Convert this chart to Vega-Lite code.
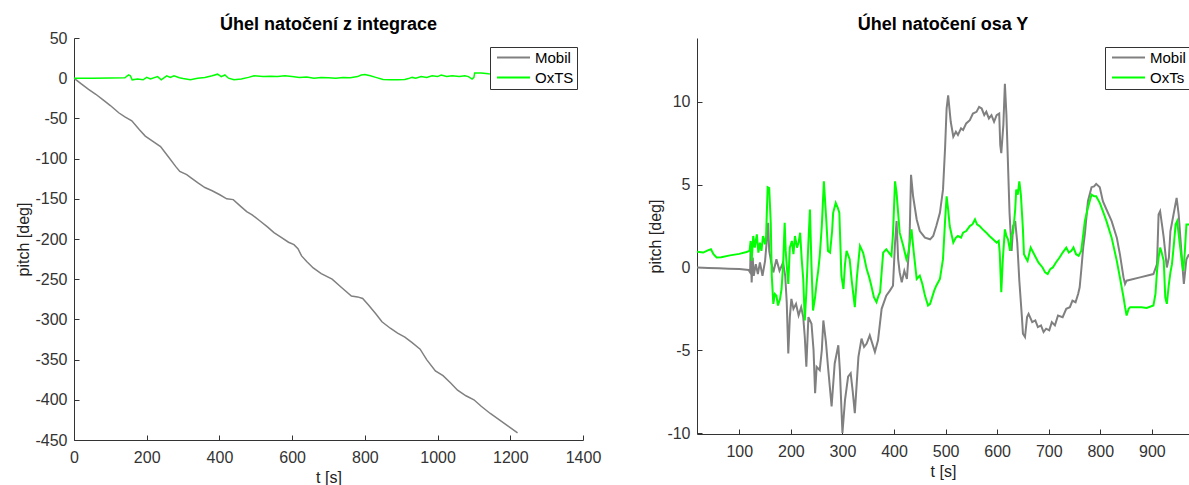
{
  "$schema": "https://vega.github.io/schema/vega-lite/v6.json",
  "background": "white",
  "padding": {"left": 15, "top": 16, "right": 0, "bottom": 0},
  "config": {
    "view": {"stroke": null},
    "font": "Liberation Sans",
    "axis": {"grid": false, "domainColor": "#333333", "tickColor": "#333333", "labelColor": "#333333", "titleColor": "#222222", "labelFont": "Liberation Sans", "titleFont": "Liberation Sans", "labelFontSize": 16, "titleFontSize": 16, "titleFontWeight": "normal", "tickSize": -5, "domainWidth": 1, "labelFlush": false, "labelExpr": "toString(datum.value)"},
    "axisX": {"labelPadding": 14, "titlePadding": 4},
    "axisY": {"labelPadding": 12, "titlePadding": 3},
    "title": {"font": "Liberation Sans", "fontSize": 18, "fontWeight": "bold", "color": "#000000", "anchor": "middle"},
    "legend": {"labelFont": "Liberation Sans", "labelFontSize": 15, "labelColor": "#000000", "fillColor": "white", "strokeColor": "#333333", "padding": 3, "rowPadding": 4, "symbolSize": 121, "symbolStrokeWidth": 2, "labelOffset": 25, "symbolOffset": 2}
  },
  "datasets": {
    "left": [
      {"t":0,"v":0,"s":"Mobil"},{"t":20,"v":-7,"s":"Mobil"},{"t":40,"v":-14,"s":"Mobil"},{"t":60,"v":-20,"s":"Mobil"},{"t":80,"v":-27,"s":"Mobil"},{"t":100,"v":-34,"s":"Mobil"},{"t":123,"v":-43,"s":"Mobil"},{"t":140,"v":-48,"s":"Mobil"},{"t":159,"v":-53,"s":"Mobil"},{"t":180,"v":-64,"s":"Mobil"},{"t":196,"v":-72,"s":"Mobil"},{"t":215,"v":-78,"s":"Mobil"},{"t":238,"v":-85,"s":"Mobil"},{"t":260,"v":-98,"s":"Mobil"},{"t":280,"v":-110,"s":"Mobil"},{"t":291,"v":-116,"s":"Mobil"},{"t":310,"v":-120,"s":"Mobil"},{"t":322,"v":-124,"s":"Mobil"},{"t":340,"v":-130,"s":"Mobil"},{"t":360,"v":-136,"s":"Mobil"},{"t":380,"v":-140,"s":"Mobil"},{"t":401,"v":-145,"s":"Mobil"},{"t":420,"v":-150,"s":"Mobil"},{"t":438,"v":-151,"s":"Mobil"},{"t":460,"v":-160,"s":"Mobil"},{"t":475,"v":-166,"s":"Mobil"},{"t":490,"v":-170,"s":"Mobil"},{"t":510,"v":-177,"s":"Mobil"},{"t":532,"v":-185,"s":"Mobil"},{"t":550,"v":-192,"s":"Mobil"},{"t":570,"v":-198,"s":"Mobil"},{"t":590,"v":-204,"s":"Mobil"},{"t":605,"v":-207,"s":"Mobil"},{"t":616,"v":-212,"s":"Mobil"},{"t":626,"v":-221,"s":"Mobil"},{"t":640,"v":-228,"s":"Mobil"},{"t":658,"v":-236,"s":"Mobil"},{"t":680,"v":-243,"s":"Mobil"},{"t":710,"v":-250,"s":"Mobil"},{"t":735,"v":-260,"s":"Mobil"},{"t":763,"v":-271,"s":"Mobil"},{"t":780,"v":-272,"s":"Mobil"},{"t":794,"v":-274,"s":"Mobil"},{"t":810,"v":-282,"s":"Mobil"},{"t":830,"v":-293,"s":"Mobil"},{"t":847,"v":-303,"s":"Mobil"},{"t":870,"v":-311,"s":"Mobil"},{"t":890,"v":-317,"s":"Mobil"},{"t":910,"v":-322,"s":"Mobil"},{"t":930,"v":-329,"s":"Mobil"},{"t":952,"v":-337,"s":"Mobil"},{"t":970,"v":-350,"s":"Mobil"},{"t":994,"v":-364,"s":"Mobil"},{"t":1015,"v":-370,"s":"Mobil"},{"t":1036,"v":-379,"s":"Mobil"},{"t":1055,"v":-388,"s":"Mobil"},{"t":1078,"v":-395,"s":"Mobil"},{"t":1100,"v":-400,"s":"Mobil"},{"t":1120,"v":-408,"s":"Mobil"},{"t":1145,"v":-417,"s":"Mobil"},{"t":1170,"v":-425,"s":"Mobil"},{"t":1195,"v":-433,"s":"Mobil"},{"t":1220,"v":-441,"s":"Mobil"},
      {"t":0,"v":0,"s":"OxTS"},{"t":50,"v":0,"s":"OxTS"},{"t":100,"v":0.2,"s":"OxTS"},{"t":140,"v":0.5,"s":"OxTS"},{"t":150,"v":4,"s":"OxTS"},{"t":155,"v":3,"s":"OxTS"},{"t":160,"v":-2,"s":"OxTS"},{"t":175,"v":-1,"s":"OxTS"},{"t":190,"v":-2,"s":"OxTS"},{"t":200,"v":1,"s":"OxTS"},{"t":210,"v":-1,"s":"OxTS"},{"t":230,"v":2,"s":"OxTS"},{"t":240,"v":-2,"s":"OxTS"},{"t":255,"v":3,"s":"OxTS"},{"t":265,"v":1,"s":"OxTS"},{"t":275,"v":3,"s":"OxTS"},{"t":290,"v":0.5,"s":"OxTS"},{"t":300,"v":-0.5,"s":"OxTS"},{"t":320,"v":-2,"s":"OxTS"},{"t":340,"v":0,"s":"OxTS"},{"t":360,"v":1,"s":"OxTS"},{"t":380,"v":3,"s":"OxTS"},{"t":395,"v":5,"s":"OxTS"},{"t":405,"v":2,"s":"OxTS"},{"t":415,"v":4,"s":"OxTS"},{"t":425,"v":0,"s":"OxTS"},{"t":440,"v":-2,"s":"OxTS"},{"t":460,"v":-1,"s":"OxTS"},{"t":480,"v":1,"s":"OxTS"},{"t":495,"v":3,"s":"OxTS"},{"t":520,"v":2,"s":"OxTS"},{"t":540,"v":2.5,"s":"OxTS"},{"t":560,"v":2,"s":"OxTS"},{"t":580,"v":3,"s":"OxTS"},{"t":600,"v":2,"s":"OxTS"},{"t":620,"v":1,"s":"OxTS"},{"t":640,"v":1.5,"s":"OxTS"},{"t":660,"v":0,"s":"OxTS"},{"t":680,"v":1,"s":"OxTS"},{"t":700,"v":0.5,"s":"OxTS"},{"t":720,"v":0,"s":"OxTS"},{"t":740,"v":1,"s":"OxTS"},{"t":760,"v":0.5,"s":"OxTS"},{"t":780,"v":2,"s":"OxTS"},{"t":790,"v":4,"s":"OxTS"},{"t":800,"v":4.5,"s":"OxTS"},{"t":815,"v":3,"s":"OxTS"},{"t":830,"v":1,"s":"OxTS"},{"t":850,"v":-1.5,"s":"OxTS"},{"t":870,"v":-2,"s":"OxTS"},{"t":890,"v":-2,"s":"OxTS"},{"t":910,"v":-1.5,"s":"OxTS"},{"t":920,"v":-0.5,"s":"OxTS"},{"t":930,"v":1,"s":"OxTS"},{"t":940,"v":0,"s":"OxTS"},{"t":955,"v":2,"s":"OxTS"},{"t":970,"v":1,"s":"OxTS"},{"t":985,"v":3,"s":"OxTS"},{"t":1000,"v":2,"s":"OxTS"},{"t":1010,"v":4,"s":"OxTS"},{"t":1025,"v":2,"s":"OxTS"},{"t":1040,"v":3,"s":"OxTS"},{"t":1060,"v":2,"s":"OxTS"},{"t":1075,"v":3,"s":"OxTS"},{"t":1085,"v":2,"s":"OxTS"},{"t":1095,"v":-1,"s":"OxTS"},{"t":1100,"v":1,"s":"OxTS"},{"t":1102,"v":6.5,"s":"OxTS"},{"t":1120,"v":6.5,"s":"OxTS"},{"t":1140,"v":5.5,"s":"OxTS"},{"t":1160,"v":5,"s":"OxTS"},{"t":1180,"v":4,"s":"OxTS"},{"t":1200,"v":4,"s":"OxTS"},{"t":1220,"v":3,"s":"OxTS"}
    ],
    "right": [
      {"t":18,"v":0.0,"s":"Mobil"},{"t":40,"v":-0.03,"s":"Mobil"},{"t":60,"v":-0.05,"s":"Mobil"},{"t":80,"v":-0.08,"s":"Mobil"},{"t":100,"v":-0.1,"s":"Mobil"},{"t":118,"v":-0.15,"s":"Mobil"},{"t":121,"v":-0.3,"s":"Mobil"},{"t":122,"v":1.2,"s":"Mobil"},{"t":124,"v":-0.9,"s":"Mobil"},{"t":126,"v":0.6,"s":"Mobil"},{"t":128,"v":-0.5,"s":"Mobil"},{"t":132,"v":0.2,"s":"Mobil"},{"t":136,"v":-0.4,"s":"Mobil"},{"t":140,"v":0.3,"s":"Mobil"},{"t":145,"v":-0.5,"s":"Mobil"},{"t":150,"v":0.4,"s":"Mobil"},{"t":153,"v":1.5,"s":"Mobil"},{"t":156,"v":2.7,"s":"Mobil"},{"t":158,"v":1.0,"s":"Mobil"},{"t":162,"v":0.3,"s":"Mobil"},{"t":166,"v":-0.3,"s":"Mobil"},{"t":172,"v":0.5,"s":"Mobil"},{"t":178,"v":-0.2,"s":"Mobil"},{"t":185,"v":0.3,"s":"Mobil"},{"t":189,"v":-0.5,"s":"Mobil"},{"t":192,"v":-2.1,"s":"Mobil"},{"t":195,"v":-5.2,"s":"Mobil"},{"t":198,"v":-3.0,"s":"Mobil"},{"t":201,"v":-1.9,"s":"Mobil"},{"t":205,"v":-2.5,"s":"Mobil"},{"t":210,"v":-2.2,"s":"Mobil"},{"t":215,"v":-2.9,"s":"Mobil"},{"t":220,"v":-2.4,"s":"Mobil"},{"t":224,"v":-3.0,"s":"Mobil"},{"t":227,"v":-4.2,"s":"Mobil"},{"t":230,"v":-6.0,"s":"Mobil"},{"t":234,"v":-3.0,"s":"Mobil"},{"t":240,"v":-3.4,"s":"Mobil"},{"t":244,"v":-5.0,"s":"Mobil"},{"t":247,"v":-7.6,"s":"Mobil"},{"t":250,"v":-6.0,"s":"Mobil"},{"t":256,"v":-6.2,"s":"Mobil"},{"t":260,"v":-5.0,"s":"Mobil"},{"t":263,"v":-3.2,"s":"Mobil"},{"t":268,"v":-4.5,"s":"Mobil"},{"t":272,"v":-6.0,"s":"Mobil"},{"t":279,"v":-8.4,"s":"Mobil"},{"t":285,"v":-5.8,"s":"Mobil"},{"t":292,"v":-4.7,"s":"Mobil"},{"t":295,"v":-6.2,"s":"Mobil"},{"t":300,"v":-10.0,"s":"Mobil"},{"t":305,"v":-8.0,"s":"Mobil"},{"t":311,"v":-6.6,"s":"Mobil"},{"t":316,"v":-6.4,"s":"Mobil"},{"t":320,"v":-7.5,"s":"Mobil"},{"t":324,"v":-8.8,"s":"Mobil"},{"t":331,"v":-5.4,"s":"Mobil"},{"t":337,"v":-4.3,"s":"Mobil"},{"t":342,"v":-4.8,"s":"Mobil"},{"t":347,"v":-4.6,"s":"Mobil"},{"t":353,"v":-4.1,"s":"Mobil"},{"t":358,"v":-4.6,"s":"Mobil"},{"t":363,"v":-5.1,"s":"Mobil"},{"t":369,"v":-4.4,"s":"Mobil"},{"t":376,"v":-2.5,"s":"Mobil"},{"t":385,"v":-1.7,"s":"Mobil"},{"t":392,"v":-1.4,"s":"Mobil"},{"t":398,"v":-1.1,"s":"Mobil"},{"t":402,"v":1.5,"s":"Mobil"},{"t":405,"v":2.8,"s":"Mobil"},{"t":408,"v":0.5,"s":"Mobil"},{"t":411,"v":-0.3,"s":"Mobil"},{"t":415,"v":-0.9,"s":"Mobil"},{"t":420,"v":-0.2,"s":"Mobil"},{"t":425,"v":-0.7,"s":"Mobil"},{"t":430,"v":1.5,"s":"Mobil"},{"t":433,"v":5.6,"s":"Mobil"},{"t":437,"v":4.3,"s":"Mobil"},{"t":444,"v":2.9,"s":"Mobil"},{"t":450,"v":2.2,"s":"Mobil"},{"t":460,"v":1.8,"s":"Mobil"},{"t":470,"v":1.7,"s":"Mobil"},{"t":476,"v":1.9,"s":"Mobil"},{"t":482,"v":2.5,"s":"Mobil"},{"t":489,"v":3.3,"s":"Mobil"},{"t":495,"v":4.7,"s":"Mobil"},{"t":499,"v":7.2,"s":"Mobil"},{"t":502,"v":9.6,"s":"Mobil"},{"t":505,"v":10.4,"s":"Mobil"},{"t":510,"v":8.8,"s":"Mobil"},{"t":515,"v":7.9,"s":"Mobil"},{"t":520,"v":8.2,"s":"Mobil"},{"t":524,"v":8.0,"s":"Mobil"},{"t":530,"v":8.4,"s":"Mobil"},{"t":534,"v":8.3,"s":"Mobil"},{"t":540,"v":8.7,"s":"Mobil"},{"t":547,"v":8.9,"s":"Mobil"},{"t":553,"v":9.3,"s":"Mobil"},{"t":560,"v":9.4,"s":"Mobil"},{"t":565,"v":9.7,"s":"Mobil"},{"t":570,"v":9.6,"s":"Mobil"},{"t":575,"v":9.2,"s":"Mobil"},{"t":579,"v":9.4,"s":"Mobil"},{"t":584,"v":9.0,"s":"Mobil"},{"t":589,"v":9.2,"s":"Mobil"},{"t":594,"v":8.8,"s":"Mobil"},{"t":599,"v":9.2,"s":"Mobil"},{"t":604,"v":9.3,"s":"Mobil"},{"t":606,"v":7.4,"s":"Mobil"},{"t":608,"v":6.9,"s":"Mobil"},{"t":612,"v":8.6,"s":"Mobil"},{"t":615,"v":11.1,"s":"Mobil"},{"t":618,"v":9.2,"s":"Mobil"},{"t":624,"v":3.3,"s":"Mobil"},{"t":628,"v":1.0,"s":"Mobil"},{"t":631,"v":2.5,"s":"Mobil"},{"t":635,"v":2.8,"s":"Mobil"},{"t":639,"v":1.5,"s":"Mobil"},{"t":643,"v":-0.8,"s":"Mobil"},{"t":648,"v":-3.0,"s":"Mobil"},{"t":650,"v":-4.0,"s":"Mobil"},{"t":654,"v":-4.2,"s":"Mobil"},{"t":658,"v":-3.0,"s":"Mobil"},{"t":661,"v":-2.8,"s":"Mobil"},{"t":668,"v":-3.3,"s":"Mobil"},{"t":674,"v":-3.2,"s":"Mobil"},{"t":679,"v":-3.6,"s":"Mobil"},{"t":685,"v":-3.5,"s":"Mobil"},{"t":690,"v":-3.9,"s":"Mobil"},{"t":695,"v":-3.7,"s":"Mobil"},{"t":701,"v":-3.8,"s":"Mobil"},{"t":706,"v":-3.3,"s":"Mobil"},{"t":712,"v":-3.5,"s":"Mobil"},{"t":718,"v":-2.9,"s":"Mobil"},{"t":727,"v":-3.0,"s":"Mobil"},{"t":734,"v":-2.5,"s":"Mobil"},{"t":741,"v":-2.4,"s":"Mobil"},{"t":746,"v":-2.0,"s":"Mobil"},{"t":752,"v":-2.1,"s":"Mobil"},{"t":757,"v":-1.6,"s":"Mobil"},{"t":760,"v":-1.2,"s":"Mobil"},{"t":763,"v":-0.2,"s":"Mobil"},{"t":767,"v":1.25,"s":"Mobil"},{"t":770,"v":2.0,"s":"Mobil"},{"t":776,"v":4.0,"s":"Mobil"},{"t":783,"v":4.85,"s":"Mobil"},{"t":788,"v":4.9,"s":"Mobil"},{"t":792,"v":5.05,"s":"Mobil"},{"t":799,"v":4.85,"s":"Mobil"},{"t":805,"v":4.0,"s":"Mobil"},{"t":812,"v":3.5,"s":"Mobil"},{"t":822,"v":2.8,"s":"Mobil"},{"t":832,"v":1.8,"s":"Mobil"},{"t":838,"v":0.8,"s":"Mobil"},{"t":845,"v":-0.6,"s":"Mobil"},{"t":848,"v":-1.0,"s":"Mobil"},{"t":851,"v":-0.8,"s":"Mobil"},{"t":877,"v":-0.6,"s":"Mobil"},{"t":903,"v":-0.4,"s":"Mobil"},{"t":910,"v":0.2,"s":"Mobil"},{"t":913,"v":3.2,"s":"Mobil"},{"t":916,"v":3.4,"s":"Mobil"},{"t":920,"v":2.5,"s":"Mobil"},{"t":923,"v":1.8,"s":"Mobil"},{"t":929,"v":0.0,"s":"Mobil"},{"t":933,"v":0.6,"s":"Mobil"},{"t":936,"v":2.2,"s":"Mobil"},{"t":942,"v":3.2,"s":"Mobil"},{"t":948,"v":4.2,"s":"Mobil"},{"t":952,"v":3.2,"s":"Mobil"},{"t":959,"v":0.2,"s":"Mobil"},{"t":962,"v":-1.0,"s":"Mobil"},{"t":967,"v":0.5,"s":"Mobil"},{"t":972,"v":0.8,"s":"Mobil"},
      {"t":18,"v":0.95,"s":"OxTs"},{"t":30,"v":0.9,"s":"OxTs"},{"t":40,"v":1.05,"s":"OxTs"},{"t":45,"v":1.1,"s":"OxTs"},{"t":50,"v":0.8,"s":"OxTs"},{"t":56,"v":0.6,"s":"OxTs"},{"t":65,"v":0.62,"s":"OxTs"},{"t":82,"v":0.73,"s":"OxTs"},{"t":100,"v":0.82,"s":"OxTs"},{"t":114,"v":0.93,"s":"OxTs"},{"t":120,"v":1.0,"s":"OxTs"},{"t":122,"v":1.6,"s":"OxTs"},{"t":124,"v":0.4,"s":"OxTs"},{"t":127,"v":1.9,"s":"OxTs"},{"t":130,"v":1.2,"s":"OxTs"},{"t":134,"v":2.0,"s":"OxTs"},{"t":137,"v":0.9,"s":"OxTs"},{"t":140,"v":1.5,"s":"OxTs"},{"t":143,"v":1.0,"s":"OxTs"},{"t":146,"v":1.9,"s":"OxTs"},{"t":150,"v":1.4,"s":"OxTs"},{"t":152,"v":1.9,"s":"OxTs"},{"t":155,"v":4.85,"s":"OxTs"},{"t":158,"v":4.8,"s":"OxTs"},{"t":161,"v":2.7,"s":"OxTs"},{"t":163,"v":-0.5,"s":"OxTs"},{"t":166,"v":-2.2,"s":"OxTs"},{"t":169,"v":-1.6,"s":"OxTs"},{"t":172,"v":-1.7,"s":"OxTs"},{"t":175,"v":-2.3,"s":"OxTs"},{"t":179,"v":-1.9,"s":"OxTs"},{"t":182,"v":-1.3,"s":"OxTs"},{"t":185,"v":0.2,"s":"OxTs"},{"t":188,"v":2.7,"s":"OxTs"},{"t":190,"v":1.0,"s":"OxTs"},{"t":192,"v":0.1,"s":"OxTs"},{"t":195,"v":-1.0,"s":"OxTs"},{"t":198,"v":1.2,"s":"OxTs"},{"t":202,"v":1.6,"s":"OxTs"},{"t":205,"v":0.8,"s":"OxTs"},{"t":208,"v":1.9,"s":"OxTs"},{"t":212,"v":1.2,"s":"OxTs"},{"t":215,"v":1.5,"s":"OxTs"},{"t":218,"v":2.1,"s":"OxTs"},{"t":221,"v":0.5,"s":"OxTs"},{"t":224,"v":-0.7,"s":"OxTs"},{"t":227,"v":-3.2,"s":"OxTs"},{"t":230,"v":-1.5,"s":"OxTs"},{"t":234,"v":1.5,"s":"OxTs"},{"t":237,"v":3.5,"s":"OxTs"},{"t":240,"v":0.1,"s":"OxTs"},{"t":243,"v":-2.6,"s":"OxTs"},{"t":247,"v":-1.8,"s":"OxTs"},{"t":250,"v":-0.9,"s":"OxTs"},{"t":253,"v":-0.2,"s":"OxTs"},{"t":256,"v":0.7,"s":"OxTs"},{"t":260,"v":2.5,"s":"OxTs"},{"t":264,"v":5.2,"s":"OxTs"},{"t":269,"v":2.7,"s":"OxTs"},{"t":272,"v":1.0,"s":"OxTs"},{"t":276,"v":0.9,"s":"OxTs"},{"t":280,"v":2.2,"s":"OxTs"},{"t":282,"v":3.3,"s":"OxTs"},{"t":287,"v":3.9,"s":"OxTs"},{"t":291,"v":3.6,"s":"OxTs"},{"t":294,"v":3.3,"s":"OxTs"},{"t":298,"v":-0.5,"s":"OxTs"},{"t":302,"v":-1.3,"s":"OxTs"},{"t":305,"v":0.2,"s":"OxTs"},{"t":308,"v":1.0,"s":"OxTs"},{"t":314,"v":0.5,"s":"OxTs"},{"t":318,"v":-0.8,"s":"OxTs"},{"t":324,"v":-2.4,"s":"OxTs"},{"t":328,"v":-0.6,"s":"OxTs"},{"t":334,"v":1.3,"s":"OxTs"},{"t":340,"v":0.9,"s":"OxTs"},{"t":343,"v":0.5,"s":"OxTs"},{"t":347,"v":-0.1,"s":"OxTs"},{"t":352,"v":-0.6,"s":"OxTs"},{"t":356,"v":-1.1,"s":"OxTs"},{"t":361,"v":-1.8,"s":"OxTs"},{"t":366,"v":-2.1,"s":"OxTs"},{"t":370,"v":-1.7,"s":"OxTs"},{"t":373,"v":-1.5,"s":"OxTs"},{"t":379,"v":0.9,"s":"OxTs"},{"t":385,"v":1.1,"s":"OxTs"},{"t":390,"v":0.9,"s":"OxTs"},{"t":395,"v":0.7,"s":"OxTs"},{"t":398,"v":2.0,"s":"OxTs"},{"t":402,"v":5.2,"s":"OxTs"},{"t":405,"v":4.5,"s":"OxTs"},{"t":408,"v":3.3,"s":"OxTs"},{"t":411,"v":2.1,"s":"OxTs"},{"t":418,"v":1.3,"s":"OxTs"},{"t":424,"v":0.5,"s":"OxTs"},{"t":428,"v":0.9,"s":"OxTs"},{"t":434,"v":2.3,"s":"OxTs"},{"t":438,"v":1.0,"s":"OxTs"},{"t":444,"v":-0.7,"s":"OxTs"},{"t":450,"v":-0.5,"s":"OxTs"},{"t":455,"v":-1.0,"s":"OxTs"},{"t":460,"v":-1.7,"s":"OxTs"},{"t":466,"v":-2.3,"s":"OxTs"},{"t":470,"v":-2.2,"s":"OxTs"},{"t":473,"v":-1.9,"s":"OxTs"},{"t":478,"v":-1.4,"s":"OxTs"},{"t":482,"v":-1.1,"s":"OxTs"},{"t":489,"v":-0.7,"s":"OxTs"},{"t":495,"v":0.5,"s":"OxTs"},{"t":499,"v":2.8,"s":"OxTs"},{"t":502,"v":4.3,"s":"OxTs"},{"t":505,"v":3.5,"s":"OxTs"},{"t":508,"v":2.5,"s":"OxTs"},{"t":515,"v":1.5,"s":"OxTs"},{"t":520,"v":1.8,"s":"OxTs"},{"t":524,"v":1.9,"s":"OxTs"},{"t":530,"v":1.8,"s":"OxTs"},{"t":534,"v":2.1,"s":"OxTs"},{"t":540,"v":2.2,"s":"OxTs"},{"t":547,"v":2.5,"s":"OxTs"},{"t":552,"v":2.6,"s":"OxTs"},{"t":557,"v":2.9,"s":"OxTs"},{"t":561,"v":2.6,"s":"OxTs"},{"t":566,"v":2.5,"s":"OxTs"},{"t":572,"v":2.3,"s":"OxTs"},{"t":579,"v":2.1,"s":"OxTs"},{"t":585,"v":1.9,"s":"OxTs"},{"t":592,"v":1.7,"s":"OxTs"},{"t":599,"v":1.5,"s":"OxTs"},{"t":603,"v":1.6,"s":"OxTs"},{"t":605,"v":0.9,"s":"OxTs"},{"t":607,"v":-0.7,"s":"OxTs"},{"t":608,"v":-1.5,"s":"OxTs"},{"t":611,"v":0.5,"s":"OxTs"},{"t":615,"v":2.3,"s":"OxTs"},{"t":618,"v":1.9,"s":"OxTs"},{"t":621,"v":1.7,"s":"OxTs"},{"t":625,"v":1.0,"s":"OxTs"},{"t":628,"v":2.0,"s":"OxTs"},{"t":631,"v":2.1,"s":"OxTs"},{"t":635,"v":3.5,"s":"OxTs"},{"t":637,"v":4.7,"s":"OxTs"},{"t":640,"v":4.4,"s":"OxTs"},{"t":643,"v":5.2,"s":"OxTs"},{"t":646,"v":4.4,"s":"OxTs"},{"t":650,"v":2.3,"s":"OxTs"},{"t":652,"v":0.8,"s":"OxTs"},{"t":657,"v":0.5,"s":"OxTs"},{"t":659,"v":0.4,"s":"OxTs"},{"t":665,"v":1.2,"s":"OxTs"},{"t":670,"v":0.9,"s":"OxTs"},{"t":675,"v":0.6,"s":"OxTs"},{"t":680,"v":0.3,"s":"OxTs"},{"t":688,"v":0.0,"s":"OxTs"},{"t":693,"v":-0.3,"s":"OxTs"},{"t":698,"v":-0.4,"s":"OxTs"},{"t":703,"v":-0.1,"s":"OxTs"},{"t":708,"v":0.0,"s":"OxTs"},{"t":714,"v":0.3,"s":"OxTs"},{"t":721,"v":0.6,"s":"OxTs"},{"t":727,"v":0.9,"s":"OxTs"},{"t":734,"v":1.2,"s":"OxTs"},{"t":739,"v":0.9,"s":"OxTs"},{"t":744,"v":1.0,"s":"OxTs"},{"t":748,"v":1.2,"s":"OxTs"},{"t":753,"v":0.8,"s":"OxTs"},{"t":758,"v":0.7,"s":"OxTs"},{"t":763,"v":1.0,"s":"OxTs"},{"t":767,"v":2.0,"s":"OxTs"},{"t":770,"v":2.8,"s":"OxTs"},{"t":776,"v":3.6,"s":"OxTs"},{"t":783,"v":4.4,"s":"OxTs"},{"t":788,"v":4.3,"s":"OxTs"},{"t":792,"v":4.3,"s":"OxTs"},{"t":799,"v":3.9,"s":"OxTs"},{"t":805,"v":3.4,"s":"OxTs"},{"t":812,"v":2.8,"s":"OxTs"},{"t":822,"v":1.8,"s":"OxTs"},{"t":832,"v":0.4,"s":"OxTs"},{"t":838,"v":-0.6,"s":"OxTs"},{"t":845,"v":-1.8,"s":"OxTs"},{"t":848,"v":-2.4,"s":"OxTs"},{"t":851,"v":-2.9,"s":"OxTs"},{"t":855,"v":-2.5,"s":"OxTs"},{"t":858,"v":-2.4,"s":"OxTs"},{"t":870,"v":-2.4,"s":"OxTs"},{"t":880,"v":-2.4,"s":"OxTs"},{"t":890,"v":-2.45,"s":"OxTs"},{"t":903,"v":-2.3,"s":"OxTs"},{"t":907,"v":-1.6,"s":"OxTs"},{"t":910,"v":-0.2,"s":"OxTs"},{"t":913,"v":0.6,"s":"OxTs"},{"t":916,"v":1.2,"s":"OxTs"},{"t":919,"v":0.9,"s":"OxTs"},{"t":923,"v":0.4,"s":"OxTs"},{"t":926,"v":-1.8,"s":"OxTs"},{"t":929,"v":-2.2,"s":"OxTs"},{"t":933,"v":-1.0,"s":"OxTs"},{"t":936,"v":-0.3,"s":"OxTs"},{"t":939,"v":0.2,"s":"OxTs"},{"t":943,"v":1.5,"s":"OxTs"},{"t":946,"v":2.6,"s":"OxTs"},{"t":949,"v":2.8,"s":"OxTs"},{"t":952,"v":2.0,"s":"OxTs"},{"t":955,"v":1.2,"s":"OxTs"},{"t":958,"v":0.4,"s":"OxTs"},{"t":961,"v":-0.2,"s":"OxTs"},{"t":964,"v":1.0,"s":"OxTs"},{"t":967,"v":2.6,"s":"OxTs"},{"t":972,"v":2.6,"s":"OxTs"}
    ]
  },
  "spacing": 114,
  "bounds": "flush",
  "resolve": {"scale": {"color": "independent"}, "legend": {"color": "independent"}},
  "hconcat": [
    {
      "width": 509,
      "height": 402,
      "title": {"text": "Úhel natočení z integrace", "offset": -4},
      "data": {"name": "left"},
      "mark": {"type": "line", "strokeWidth": 1.5, "clip": true},
      "encoding": {
        "x": {"field": "t", "type": "quantitative", "scale": {"domain": [0, 1400], "nice": false, "zero": false}, "axis": {"title": "t [s]", "values": [0, 200, 400, 600, 800, 1000, 1200, 1400]}},
        "y": {"field": "v", "type": "quantitative", "scale": {"domain": [-450, 50], "nice": false}, "axis": {"title": "pitch [deg]", "values": [-450, -400, -350, -300, -250, -200, -150, -100, -50, 0, 50]}},
        "color": {"field": "s", "type": "nominal", "scale": {"domain": ["Mobil", "OxTS"], "range": ["#808080", "#00ff00"]}, "legend": {"title": null, "orient": "none", "legendX": 416, "legendY": 9, "symbolType": "M-1,0H5"}}
      }
    },
    {
      "width": 492,
      "height": 396,
      "title": {"text": "Úhel natočení osa Y", "offset": 4},
      "data": {"name": "right"},
      "mark": {"type": "line", "strokeWidth": 2, "clip": true},
      "encoding": {
        "x": {"field": "t", "type": "quantitative", "scale": {"domain": [18, 972], "nice": false, "zero": false}, "axis": {"title": "t [s]", "values": [100, 200, 300, 400, 500, 600, 700, 800, 900]}},
        "y": {"field": "v", "type": "quantitative", "scale": {"domain": [-10.06, 13.86], "nice": false}, "axis": {"title": "pitch [deg]", "values": [-10, -5, 0, 5, 10]}},
        "color": {"field": "s", "type": "nominal", "scale": {"domain": ["Mobil", "OxTs"], "range": ["#808080", "#00ff00"]}, "legend": {"title": null, "orient": "none", "legendX": 408, "legendY": 9, "symbolType": "M-1,0H5"}}
      }
    }
  ]
}
